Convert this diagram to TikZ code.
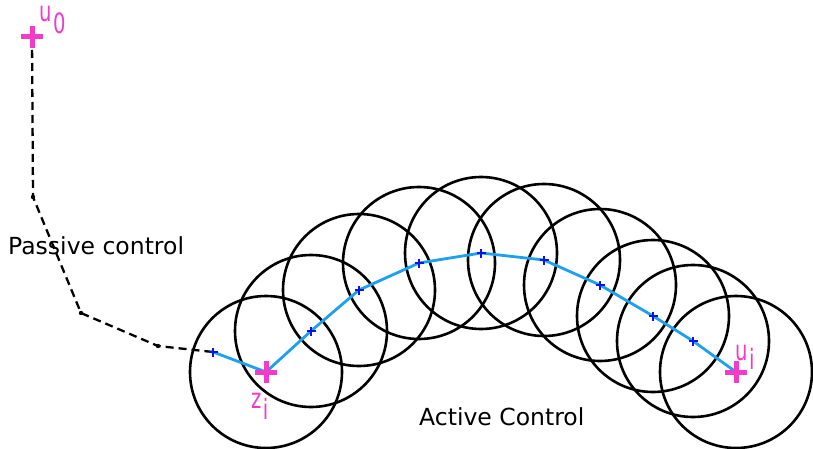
\documentclass[tikz,border=0pt]{standalone}
\usepackage{fontspec}
\setmainfont{DejaVu Sans}
\definecolor{magentapt}{RGB}{240,60,200}
\definecolor{pathblue}{RGB}{30,160,240}
\definecolor{markblue}{RGB}{10,20,230}
% point label: base letter with a lowered, same-size index
\newcommand{\ptlabel}[3]{\scalebox{0.7}[1]{#1\hspace{2pt}\raisebox{-#3}{#2}}}
\begin{document}
\begin{tikzpicture}[x=1pt,y=-1pt,
  ring/.style={draw=black,line width=2.6pt},
  bigmark/.style={draw=magentapt,line width=5pt},
  smallmark/.style={draw=markblue,line width=1.4pt},
  passive/.style={draw=black,line width=2.3pt,dash pattern=on 8pt off 5pt},
  active/.style={draw=pathblue,line width=2.8pt},
  lbl/.style={text=magentapt,font=\fontsize{28}{28}\selectfont,inner sep=0pt},
  caption/.style={font=\fontsize{23.5}{24}\selectfont,inner sep=0pt}]
\useasboundingbox (0,0) rectangle (813,449);
\fill[white] (0,0) rectangle (813,449);

% waypoints
\coordinate (u0) at (32,37);
\coordinate (d1) at (33,197);
\coordinate (d2) at (81,313);
\coordinate (d3) at (158,346);
\coordinate (p0) at (213,352);
\coordinate (zi) at (266,372);
\coordinate (p2) at (311,331);
\coordinate (p3) at (359,290);
\coordinate (p4) at (419,263);
\coordinate (p5) at (481,253);
\coordinate (p6) at (544,260);
\coordinate (p7) at (600,285);
\coordinate (p8) at (653,316);
\coordinate (p9) at (693,341);
\coordinate (ui) at (736,372);

% reachable regions along the active path
\foreach \c in {zi,p2,p3,p4,p5,p6,p7,p8,p9,ui}
  \draw[ring] (\c) circle[radius=76];

% passive segment
\draw[passive] (u0) -- (d1) -- (d2) -- (d3) -- (p0);
\foreach \c in {d1,d2,d3}
  \fill (\c) circle[radius=2.2];

% active segment
\draw[active] (p0) -- (zi) -- (p2) -- (p3) -- (p4) -- (p5) -- (p6) -- (p7) -- (p8) -- (p9) -- (ui);
\foreach \c in {p0,p2,p3,p4,p5,p6,p7,p8,p9}
  \draw[smallmark] ([xshift=-4.5pt]\c) -- ([xshift=4.5pt]\c) ([yshift=-4.5pt]\c) -- ([yshift=4.5pt]\c);

% start and end markers
\foreach \c in {u0,zi,ui}
  \draw[bigmark] ([xshift=-11pt]\c) -- ([xshift=11pt]\c) ([yshift=-11pt]\c) -- ([yshift=11pt]\c);

% labels
\node[lbl,anchor=base west] (lu0) at (39,22) {\ptlabel{u}{0}{12pt}};
\node[lbl,anchor=base west] (lzi) at (251,408) {\ptlabel{z}{i}{11pt}};
\node[lbl,anchor=base west] (lui) at (735,360) {\ptlabel{u}{i}{9pt}};
\node[caption,anchor=base west] (pc) at (8,254) {Passive control};
\node[caption,anchor=base west] (ac) at (419,425) {Active Control};
\end{tikzpicture}
\end{document}
